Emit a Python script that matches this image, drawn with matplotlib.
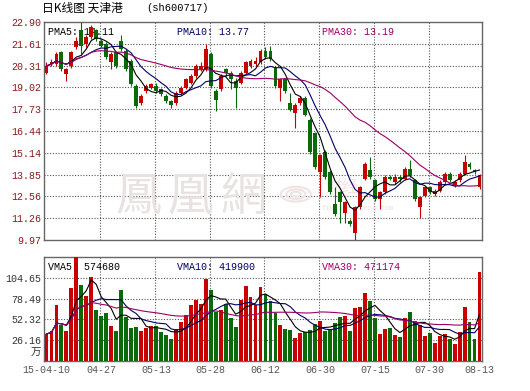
import matplotlib.pyplot as plt
import matplotlib.transforms as mtransforms
import numpy as np
import pandas as pd

plt.rcParams['font.family'] = ['Liberation Mono', 'Noto Sans CJK SC', 'DejaVu Sans']

# daily OHLC, 2015-04-10 .. 2015-08-13
opens = [19.9, 20.4, 20.4, 21.1, 19.8, 20.3, 21.4, 22.4, 21.6, 22.0,
         22.4, 21.8, 21.6, 20.5, 21.1, 21.8, 21.2, 20.6, 19.1, 18.1,
         18.8, 19.0, 19.1, 18.9, 18.5, 18.2, 18.1, 18.7, 19.0, 19.3,
         19.7, 20.1, 20.1, 21.0, 18.8, 18.9, 20.1, 19.9, 19.4, 19.3,
         19.9, 20.3, 20.4, 20.5, 21.2, 21.2, 20.2, 19.0, 19.5, 18.1,
         17.5, 18.1, 18.4, 17.1, 16.3, 14.0, 15.2, 14.0, 12.1, 12.8,
         11.6, 11.1, 10.4, 11.9, 13.6, 14.1, 13.5, 12.4, 12.8, 13.7,
         13.4, 13.7, 13.6, 14.2, 13.5, 11.9, 12.6, 13.1, 12.7, 12.9,
         13.4, 13.9, 13.2, 13.5, 13.9, 14.5, 14.1, 13.1]
closes = [20.3, 20.5, 21.0, 20.1, 20.1, 21.1, 21.8, 21.5, 22.0, 22.6,
          21.9, 21.5, 20.8, 21.0, 20.3, 21.3, 20.1, 19.2, 17.9, 18.5,
          19.1, 19.2, 18.8, 18.6, 18.2, 18.0, 18.7, 19.0, 19.5, 19.7,
          20.3, 20.3, 21.3, 19.1, 18.3, 19.7, 19.9, 19.5, 19.0, 19.9,
          20.5, 20.6, 20.6, 21.2, 20.8, 20.7, 19.1, 19.5, 18.8, 17.7,
          18.0, 18.4, 17.4, 15.2, 14.3, 15.0, 13.7, 12.8, 11.5, 12.2,
          12.2, 10.9, 11.9, 13.1, 14.5, 13.7, 12.4, 12.8, 13.7, 13.6,
          13.7, 13.6, 14.2, 13.8, 12.4, 12.5, 13.1, 12.8, 12.9, 13.4,
          13.9, 13.5, 13.4, 13.9, 14.6, 14.3, 14.0, 13.8]
highs = [20.5, 20.7, 21.1, 21.2, 20.2, 21.2, 22.0, 22.9, 22.1, 22.7,
         22.5, 21.9, 21.7, 21.1, 21.2, 22.1, 21.3, 20.7, 19.2, 18.6,
         19.2, 19.3, 19.3, 19.0, 18.6, 18.3, 18.8, 19.1, 19.6, 19.8,
         20.4, 20.5, 21.6, 21.1, 18.9, 19.8, 20.2, 20.0, 19.6, 20.0,
         20.6, 20.7, 20.8, 21.3, 21.4, 21.5, 20.3, 19.6, 19.6, 18.7,
         18.1, 18.5, 18.5, 17.2, 16.4, 15.1, 15.3, 14.1, 13.1, 12.9,
         12.3, 11.2, 12.0, 13.2, 14.6, 14.9, 13.6, 12.9, 13.8, 13.8,
         13.9, 13.8, 14.3, 14.7, 13.6, 12.6, 13.2, 13.2, 13.0, 13.5,
         14.0, 14.0, 13.5, 14.0, 15.0, 14.6, 14.2, 13.9]
lows = [19.8, 20.3, 20.3, 20.0, 19.4, 20.2, 21.3, 21.0, 21.4, 21.9,
        21.8, 21.4, 20.7, 20.1, 20.2, 21.2, 20.0, 19.1, 17.8, 18.0,
        18.7, 18.9, 18.7, 18.5, 18.1, 17.8, 18.0, 18.6, 18.9, 19.2,
        19.6, 20.0, 20.0, 19.0, 17.6, 18.8, 19.7, 18.9, 17.8, 19.2,
        19.8, 20.2, 20.3, 20.4, 20.7, 20.6, 19.0, 18.2, 18.7, 17.6,
        16.6, 18.0, 17.3, 15.1, 14.2, 12.5, 13.6, 12.7, 11.4, 11.0,
        11.0, 10.8, 9.97, 11.8, 13.5, 13.6, 12.3, 11.8, 12.7, 13.5,
        13.3, 13.4, 13.5, 13.7, 12.3, 11.3, 12.5, 12.7, 12.6, 12.8,
        13.3, 13.4, 13.1, 13.4, 13.8, 14.2, 13.9, 13.0]
# volume in 万手
volumes = [34, 38, 70.6, 45, 38, 92, 135, 96, 82, 105.5,
           64, 57, 60, 44, 38, 90, 56, 41, 43, 38,
           42, 44, 44, 37, 33, 28, 40, 49, 58, 70.6,
           77, 72, 103, 89.5, 62, 64, 71.5, 54.6, 43, 77,
           94.6, 80, 70, 93, 84, 76, 61, 45.4, 40.3, 39,
           29.4, 35.7, 37, 39, 46.6, 50.4, 38.2, 40, 47.5, 55,
           56.7, 38.2, 66.4, 67.7, 86, 75.6, 54.6, 34, 40, 42,
           32.8, 30.7, 53.8, 62.2, 50.4, 45.4, 31.5, 35.7, 23.1, 31.5,
           33.6, 27.7, 21.4, 37, 68.5, 49.6, 27.3, 112.6]

date_pos = [0, 11, 22, 33, 44, 55, 66, 77, 87]
date_labels = ['15-04-10', '04-27', '05-13', '05-28', '06-12',
               '06-30', '07-15', '07-30', '08-13']
price_ticks = [9.97, 11.26, 12.56, 13.85, 15.14, 16.44, 17.73, 19.02, 20.31, 21.61, 22.90]
vol_ticks = [26.16, 52.32, 78.49, 104.65]
# readouts printed on the chart
pma_text = ['PMA5: 14.11', 'PMA10: 13.77', 'PMA30: 13.19']
vma_text = ['VMA5: 574680', 'VMA10: 419900', 'VMA30: 471174']

df = pd.DataFrame({'open': opens, 'close': closes, 'high': highs,
                   'low': lows, 'vol': volumes})
for n in (5, 10, 30):
    df['pma%d' % n] = df['close'].rolling(n, min_periods=1).mean()
    df['vma%d' % n] = df['vol'].rolling(n, min_periods=1).mean()

red = '#c80000'
green = '#0a6a0a'
line_colors = ['#000000', '#000066', '#990066']
grid_kw = dict(color='#555555', linestyle=(0, (1, 1.5)), linewidth=0.8)

x = np.arange(len(df)) + 0.5
up = df['close'] >= df['open']
colors = np.where(up, red, green)

fig = plt.figure(figsize=(5.30, 3.91), dpi=100)
ax = fig.add_axes([44/530, 1-240/391, 438/530, 218/391])
axv = fig.add_axes([44/530, 1-361/391, 438/530, 104/391])

grid_x = [p + 0.3 for p in date_pos[1:-1]]
text_x = [0.009, 0.304, 0.635]

# candles
body_lo = np.minimum(df['open'], df['close'])
body_h = np.maximum(np.abs(df['close'] - df['open']), 0.06)
ax.vlines(x, df['low'], df['high'], colors=colors, linewidth=0.8, zorder=3)
ax.bar(x, body_h, bottom=body_lo, width=0.78, color=colors, zorder=4)
for n, c in zip((5, 10, 30), line_colors):
    ax.plot(x, df['pma%d' % n], color=c, lw=0.8, zorder=5)

ax.set_xlim(0, len(df))
ax.set_ylim(price_ticks[0], price_ticks[-1])
ax.set_yticks(price_ticks, ['%.2f' % t for t in price_ticks])
ax.set_xticks([])
for gx in grid_x:
    ax.axvline(gx, zorder=1, **grid_kw)
for gy in price_ticks[1:-1]:
    ax.axhline(gy, zorder=1, **grid_kw)
ax.tick_params(axis='y', length=0, pad=2, labelsize=7.2, labelcolor='#8b1a1a')

# watermark
for k, ch in enumerate('鳳凰網'):
    ax.text(0.215 + 0.12 * k, 0.20, ch, transform=ax.transAxes, fontsize=33,
            color='#e8e2e2', family=['Noto Sans CJK TC'], ha='center',
            va='center', zorder=2)
for r in (0.034, 0.022, 0.011):
    ax.add_patch(plt.Circle((0.575, 0.21), r, transform=ax.transAxes, fill=False,
                            ec='#eee4e4', lw=1.5, zorder=2))
ax.text(0.68, 0.24, '财经', transform=ax.transAxes, fontsize=12, color='#f3e4e4',
        family=['Noto Sans CJK SC'], ha='center', va='center', zorder=2)
ax.text(0.715, 0.145, 'finance.ifeng.com', transform=ax.transAxes, fontsize=5,
        color='#ece2e2', ha='center', va='center', zorder=2)

for tx, t, c in zip(text_x, pma_text, line_colors):
    ax.text(tx, 0.955, t, transform=ax.transAxes, fontsize=7.2, color=c,
            va='center', zorder=2)

# volume
axv.bar(x, df['vol'], width=0.78, color=colors, zorder=3)
for n, c in zip((5, 10, 30), line_colors):
    axv.plot(x, df['vma%d' % n], color=c, lw=0.8, zorder=5)
axv.set_xlim(0, len(df))
axv.set_ylim(0, 131)
axv.set_yticks(vol_ticks, ['%.2f' % t for t in vol_ticks])
axv.set_xticks([p + 0.5 for p in date_pos], date_labels)
for gx in grid_x:
    axv.axvline(gx, zorder=1, **grid_kw)
for gy in vol_ticks:
    axv.axhline(gy, zorder=1, **grid_kw)
axv.tick_params(axis='y', length=0, pad=2, labelsize=7.2, labelcolor='#333333')
axv.tick_params(axis='x', length=0, pad=3, labelsize=7.2, labelcolor='#555555')
trans = mtransforms.blended_transform_factory(axv.transAxes, axv.transData)
axv.text(-0.006, 10, '万', transform=trans, fontsize=7.5, color='#333333',
         family=['Noto Sans CJK SC'], ha='right', va='center')

for tx, t, c in zip(text_x, vma_text, line_colors):
    axv.text(tx, 0.905, t, transform=axv.transAxes, fontsize=7.2, color=c,
             va='center', zorder=2)

for a in (ax, axv):
    for s in a.spines.values():
        s.set_color('#666666')
        s.set_linewidth(1)

fig.text(42/530, 1-8/391, '日K线图 天津港', fontsize=8.5, family=['Noto Sans CJK SC'],
         va='center', ha='left')
fig.text(146/530, 1-8/391, '(sh600717)', fontsize=7.5, va='center', ha='left')

plt.savefig('out.png', dpi=100)
plt.close()
